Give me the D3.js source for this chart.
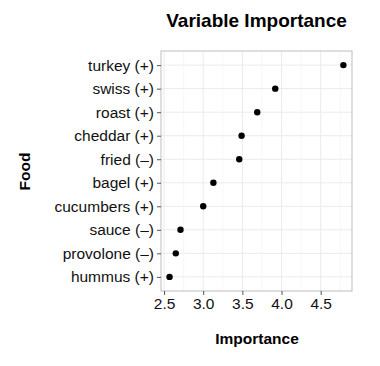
<!DOCTYPE html>
<html><head><meta charset="utf-8">
<script src="https://cdn.jsdelivr.net/npm/d3@7"></script>
<style>body{margin:0;background:#fff}svg{display:block;font-family:"Liberation Sans",Arial,sans-serif}</style>
</head><body><svg id="c" width="380" height="366"></svg>
<script>
const foods = ["turkey (+)","swiss (+)","roast (+)","cheddar (+)","fried (\u2013)","bagel (+)","cucumbers (+)","sauce (\u2013)","provolone (\u2013)","hummus (+)"];
const importance = [4.79,3.92,3.69,3.49,3.46,3.13,3.0,2.71,2.65,2.57];
const xTicks = [2.5,3.0,3.5,4.0,4.5];
const xMinor = [2.75,3.25,3.75,4.25,4.75];

const svg = d3.select("#c");
const L=161, R=352, T=51, B=291;
const x = d3.scaleLinear().domain([2.461,4.90]).range([L,R]);
const y = d3.scalePoint().domain(foods).range([T,B]).padding(0.6);

const g = svg.append("g");
g.selectAll(".mn").data(xMinor).join("line").attr("x1",d=>x(d)).attr("x2",d=>x(d)).attr("y1",T).attr("y2",B).attr("stroke","#f5f5f5").attr("stroke-width",0.8);
g.selectAll(".mj").data(xTicks).join("line").attr("x1",d=>x(d)).attr("x2",d=>x(d)).attr("y1",T).attr("y2",B).attr("stroke","#ebebeb").attr("stroke-width",1);
g.selectAll(".hy").data(foods).join("line").attr("x1",L).attr("x2",R).attr("y1",d=>y(d)).attr("y2",d=>y(d)).attr("stroke","#ebebeb").attr("stroke-width",1);
g.append("rect").attr("x",L).attr("y",T).attr("width",R-L).attr("height",B-T).attr("fill","none").attr("stroke","#bdbdbd").attr("stroke-width",1);

const xa = svg.append("g").attr("transform",`translate(0,${B})`).call(d3.axisBottom(x).tickValues(xTicks).tickFormat(d3.format(".1f")).tickSize(4).tickPadding(3));
const ya = svg.append("g").attr("transform",`translate(${L},0)`).call(d3.axisLeft(y).tickSize(4).tickPadding(3));
[xa,ya].forEach(a=>{a.select(".domain").remove();a.selectAll(".tick line").attr("stroke","#555");a.selectAll("text").attr("fill","#111").style("font-size","15.5px").style("font-family","'Liberation Sans',Arial,sans-serif");});

svg.selectAll("circle").data(importance).join("circle").attr("cx",d=>x(d)).attr("cy",(d,i)=>y(foods[i])).attr("r",3.2).attr("fill","#000");

svg.append("text").attr("x",256.5).attr("y",27).attr("text-anchor","middle").attr("fill","#000").style("font-weight","bold").style("font-size","19px").text("Variable Importance");
svg.append("text").attr("x",257).attr("y",344).attr("text-anchor","middle").attr("fill","#000").style("font-weight","bold").style("font-size","15.5px").text("Importance");
svg.append("text").attr("transform","translate(30,171.5) rotate(-90)").attr("text-anchor","middle").attr("fill","#000").style("font-weight","bold").style("font-size","15.5px").text("Food");
</script></body></html>
